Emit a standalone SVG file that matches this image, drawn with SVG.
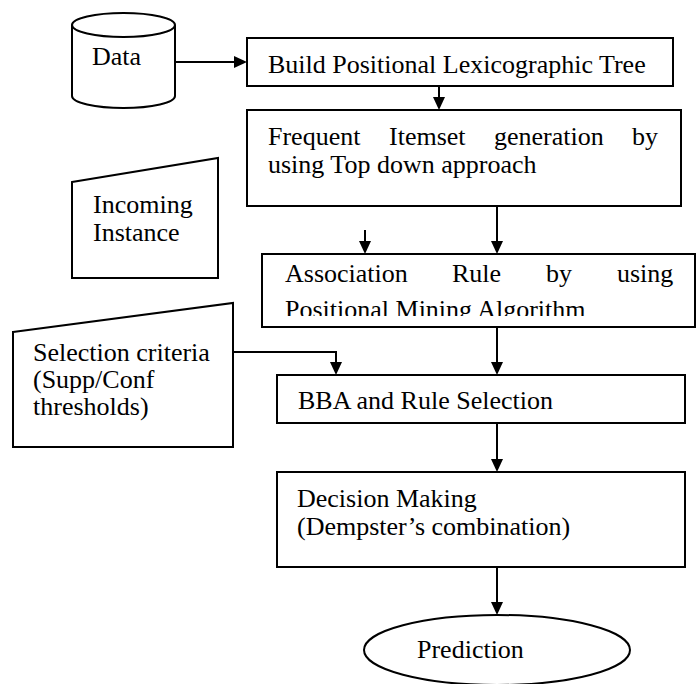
<svg xmlns="http://www.w3.org/2000/svg" width="698" height="684" viewBox="0 0 698 684">
<style>
  .shape { fill: #ffffff; stroke: #000000; stroke-width: 2; }
  .conn { fill: none; stroke: #000000; stroke-width: 2; }
  text { font-family: "Liberation Serif", "Times New Roman", serif; font-size: 26px; fill: #000000; }
</style>
<defs>
  <marker id="arrow" markerUnits="userSpaceOnUse" markerWidth="14" markerHeight="12" refX="0" refY="6" orient="auto">
    <path d="M0,0 L13,6 L0,12 Z" fill="#000000"/>
  </marker>
  <clipPath id="assocClip">
    <rect x="262" y="254" width="433" height="62"/>
  </clipPath>
</defs>
<rect width="698" height="684" fill="#ffffff"/>

<g id="connectors">
  <line class="conn" x1="175" y1="62" x2="234" y2="62" marker-end="url(#arrow)"/>
  <line class="conn" x1="439" y1="86" x2="439" y2="97" marker-end="url(#arrow)"/>
  <line class="conn" x1="497" y1="206" x2="497" y2="241" marker-end="url(#arrow)"/>
  <line class="conn" x1="365" y1="230" x2="365" y2="241" marker-end="url(#arrow)"/>
  <line class="conn" x1="497" y1="327" x2="497" y2="362" marker-end="url(#arrow)"/>
  <polyline class="conn" points="233,352 336,352 336,362" marker-end="url(#arrow)"/>
  <line class="conn" x1="497" y1="423" x2="497" y2="459" marker-end="url(#arrow)"/>
  <line class="conn" x1="497" y1="567" x2="497" y2="602" marker-end="url(#arrow)"/>
</g>

<g id="data">
  <path class="shape" d="M72,25 A51.5,12 0 0 1 175,25 L175,96 A51.5,12 0 0 1 72,96 Z"/>
  <path class="conn" d="M72,25 A51.5,12 0 0 0 175,25"/>
  <text x="92" y="65">Data</text>
</g>

<g id="build-tree">
  <rect class="shape" x="247" y="38" width="426" height="48"/>
  <text x="268" y="73">Build Positional Lexicographic Tree</text>
</g>

<g id="frequent-itemset">
  <rect class="shape" x="247" y="110" width="434" height="96"/>
  <text y="145"><tspan x="268">Frequent</tspan><tspan x="389">Itemset</tspan><tspan x="494">generation</tspan><tspan x="632">by</tspan></text>
  <text x="268" y="173">using Top down approach</text>
</g>

<g id="incoming-instance">
  <polygon class="shape" points="72,182 218,158 218,278 72,278"/>
  <text x="93" y="213">Incoming</text>
  <text x="93" y="241">Instance</text>
</g>

<g id="association-rule">
  <rect class="shape" x="262" y="254" width="433" height="73"/>
  <g clip-path="url(#assocClip)">
    <text y="282"><tspan x="285">Association</tspan><tspan x="452">Rule</tspan><tspan x="546">by</tspan><tspan x="617">using</tspan></text>
    <text x="285" y="318">Positional Mining Algorithm</text>
  </g>
</g>

<g id="selection-criteria">
  <polygon class="shape" points="13,332 233,303 233,447 13,447"/>
  <text x="33" y="361">Selection criteria</text>
  <text x="33" y="388">(Supp/Conf</text>
  <text x="33" y="415">thresholds)</text>
</g>

<g id="bba-rule-selection">
  <rect class="shape" x="277" y="375" width="408" height="48"/>
  <text x="298" y="409">BBA and Rule Selection</text>
</g>

<g id="decision-making">
  <rect class="shape" x="277" y="472" width="408" height="95"/>
  <text x="297" y="507">Decision Making</text>
  <text x="297" y="535">(Dempster’s combination)</text>
</g>

<g id="prediction">
  <ellipse class="shape" cx="497" cy="650" rx="133" ry="35"/>
  <text x="417" y="658">Prediction</text>
</g>
</svg>
